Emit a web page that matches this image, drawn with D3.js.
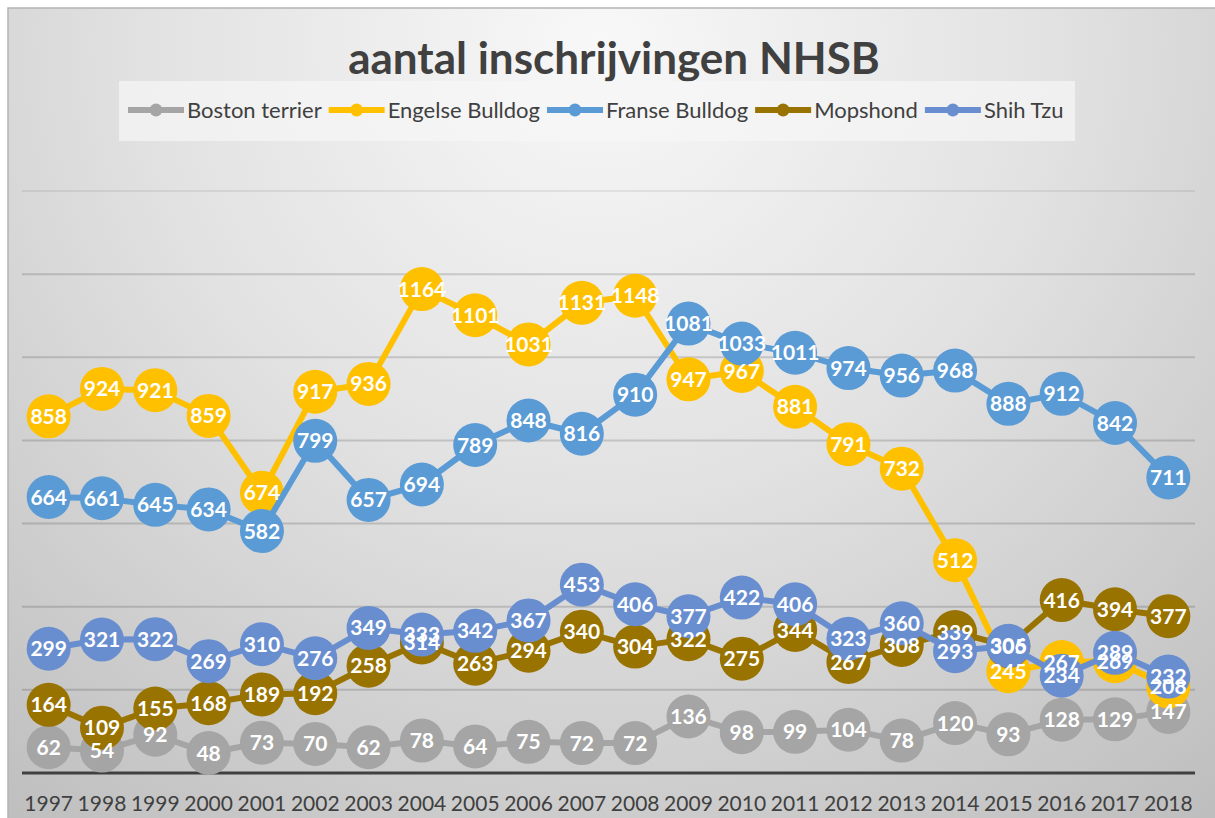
<!DOCTYPE html>
<html lang="nl">
<head>
  <meta charset="UTF-8">
  <title>aantal inschrijvingen NHSB</title>
  <script src="https://cdn.jsdelivr.net/npm/d3@7"></script>
  <style>
    body { margin: 0; background: #fff; }
    svg { display: block; font-family: Lato, "Open Sans", sans-serif; }
    .lbl { font-weight: bold; fill: #fff; font-size: 21px; }
    .tick text { fill: #404040; font-size: 21px; }
  </style>
</head>
<body>
<div id="chart"></div>
<script>
  var years = ["1997","1998","1999","2000","2001","2002","2003","2004","2005","2006","2007",
               "2008","2009","2010","2011","2012","2013","2014","2015","2016","2017","2018"];

  var bostonTerrier = [62, 54, 92, 48, 73, 70, 62, 78, 64, 75, 72, 72, 136, 98, 99, 104, 78, 120, 93, 128, 129, 147];
  var engelseBulldog = [858, 924, 921, 859, 674, 917, 936, 1164, 1101, 1031, 1131, 1148, 947, 967, 881, 791, 732, 512, 245, 267, 269, 208];
  var franseBulldog = [664, 661, 645, 634, 582, 799, 657, 694, 789, 848, 816, 910, 1081, 1033, 1011, 974, 956, 968, 888, 912, 842, 711];
  var mopshond = [164, 109, 155, 168, 189, 192, 258, 314, 263, 294, 340, 304, 322, 275, 344, 267, 308, 339, 305, 416, 394, 377];
  var shihTzu = [299, 321, 322, 269, 310, 276, 349, 333, 342, 367, 453, 406, 377, 422, 406, 323, 360, 293, 306, 234, 289, 232];

  var seriesNames = ["Boston terrier", "Engelse Bulldog", "Franse Bulldog", "Mopshond", "Shih Tzu"];
  var seriesColors = ["#a5a5a5", "#ffc000", "#5b9bd5", "#997300", "#698ed0"];
  var gridValues = [0, 200, 400, 600, 800, 1000, 1200, 1400];

  var series = [bostonTerrier, engelseBulldog, franseBulldog, mopshond, shihTzu].map(function(vals, i) {
      return { name: seriesNames[i], color: seriesColors[i],
               points: vals.map(function(v, j) { return { year: years[j], value: v }; }) };
  });

  var W = 1215, H = 818;
  var plot = { left: 22, right: 1195, top: 191, bottom: 773 };

  var svg = d3.select("#chart").append("svg").attr("width", W).attr("height", H);

  // background like the office "gradient" style
  var defs = svg.append("defs");
  var rg = defs.append("radialGradient").attr("id", "bg")
      .attr("gradientUnits", "userSpaceOnUse")
      .attr("cx", 600).attr("cy", 40).attr("r", 1000);
  rg.append("stop").attr("offset", "0%").attr("stop-color", "#f8f8f8");
  rg.append("stop").attr("offset", "45%").attr("stop-color", "#e2e2e2");
  rg.append("stop").attr("offset", "100%").attr("stop-color", "#bdbdbd");

  svg.append("rect").attr("x", 8).attr("y", 8).attr("width", W).attr("height", H)
      .attr("fill", "url(#bg)").attr("stroke", "#b4b4b4").attr("stroke-width", 1.5);

  var x = d3.scaleBand().domain(years).range([plot.left, plot.right]);
  var y = d3.scaleLinear().domain([0, 1400]).range([plot.bottom, plot.top]);

  // gridlines
  svg.append("g").selectAll("line").data(gridValues.filter(function(d) { return d > 0; }))
      .enter().append("line")
      .attr("x1", plot.left).attr("x2", plot.right)
      .attr("y1", function(d) { return y(d); }).attr("y2", function(d) { return y(d); })
      .attr("stroke", "#000").attr("stroke-opacity", function(d) { return d == 1400 ? 0.07 : 0.15; })
      .attr("stroke-width", 2);

  // x axis
  var xAxis = svg.append("g").attr("transform", "translate(0," + plot.bottom + ")")
      .call(d3.axisBottom(x).tickSize(0).tickPadding(23));
  xAxis.select(".domain").remove();
  xAxis.append("line").attr("x1", plot.left).attr("x2", plot.right)
      .attr("stroke", "#404040").attr("stroke-width", 3);
  xAxis.selectAll(".tick text").attr("font-family", "Lato, sans-serif");

  var cx = function(d) { return x(d.year) + x.bandwidth() / 2; };
  var line = d3.line().x(cx).y(function(d) { return y(d.value); });

  var sg = svg.selectAll("g.series").data(series).enter().append("g").attr("class", "series");
  sg.append("path")
      .attr("d", function(s) { return line(s.points); })
      .attr("fill", "none")
      .attr("stroke", function(s) { return s.color; })
      .attr("stroke-width", 6)
      .attr("stroke-linejoin", "round");
  sg.selectAll("circle").data(function(s) { return s.points.map(function(p) { p.color = s.color; return p; }); })
      .enter().append("circle")
      .attr("cx", cx).attr("cy", function(d) { return y(d.value); })
      .attr("r", 22)
      .attr("fill", function(d) { return d.color; });

  // data labels on top of everything
  var lg = svg.append("g");
  series.forEach(function(s) {
      lg.selectAll(null).data(s.points).enter().append("text")
          .attr("class", "lbl")
          .attr("x", cx).attr("y", function(d) { return y(d.value); })
          .attr("dy", "0.36em")
          .attr("text-anchor", "middle")
          .text(function(d) { return d.value; });
  });

  // title
  svg.append("text").attr("x", 614).attr("y", 74).attr("text-anchor", "middle")
      .attr("font-size", 44).attr("font-weight", "bold").attr("fill", "#404040")
      .text("aantal inschrijvingen NHSB");

  // legend
  svg.append("rect").attr("x", 119).attr("y", 81).attr("width", 956).attr("height", 60)
      .attr("fill", "#f6f6f6").attr("fill-opacity", 0.7);
  var legend = svg.append("g");
  var lx = 128;
  series.forEach(function(s) {
      var item = legend.append("g").attr("transform", "translate(" + lx + ",110)");
      item.append("line").attr("x1", 0).attr("x2", 56)
          .attr("stroke", s.color).attr("stroke-width", 6);
      item.append("circle").attr("cx", 28).attr("r", 6.5).attr("fill", s.color);
      var t = item.append("text").attr("x", 59).attr("dy", "0.35em")
          .attr("font-size", 22).attr("fill", "#404040").text(s.name);
      lx += 59 + t.node().getComputedTextLength() + 7;
  });
</script>
</body>
</html>
